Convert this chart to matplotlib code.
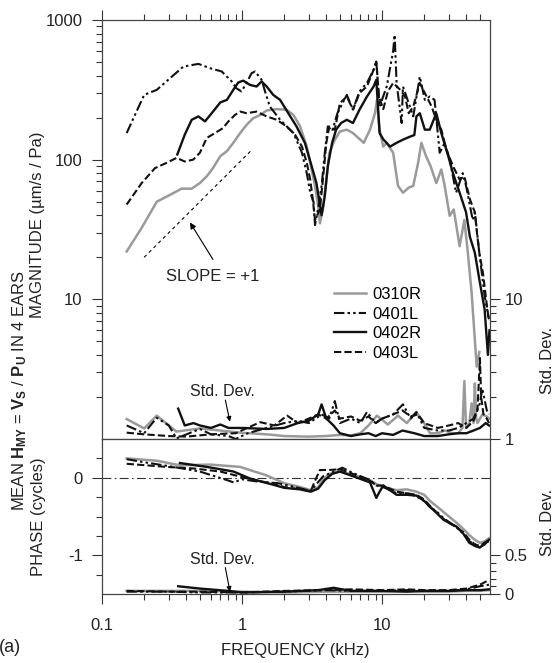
import matplotlib
matplotlib.use('Agg')
import matplotlib.pyplot as plt
import numpy as np
from matplotlib.ticker import FixedLocator, NullFormatter

plt.rcParams['font.family'] = 'Liberation Sans'
plt.rcParams['mathtext.fontset'] = 'custom'
plt.rcParams['mathtext.rm'] = 'Liberation Sans'
plt.rcParams['mathtext.bf'] = 'Liberation Sans:bold'
plt.rcParams['mathtext.it'] = 'Liberation Sans:italic'

ears = ['0310R', '0401L', '0402R', '0403L']

# magnitude (um/s / Pa)
f_mag_0310R = [0.15, 0.192, 0.246, 0.306, 0.37, 0.437, 0.5, 0.56, 0.62, 0.70, 0.78, 0.866, 0.97, 1.08, 1.2,
               1.35, 1.5, 1.77, 2.08, 2.33, 2.6, 2.9, 3.14, 3.32, 3.5, 3.6, 3.8, 4.0, 4.2, 4.6, 5.0, 5.6, 6.2,
               7.4, 8.2, 8.9, 9.2, 9.6, 10.2, 10.8, 12.0, 13.0, 14.1, 15.5, 16.7, 18.1, 19.1, 20.6, 22.2,
               24.4, 26.5, 28.0, 30.4, 32.5, 35.8, 38.7, 41.0, 43.6, 47.4, 49.5]
mag_0310R = [22, 32.5, 50, 56, 62, 62, 68, 76, 87, 106, 115, 132, 155, 178, 198,
             209, 225, 230, 228, 209, 173, 124, 85, 65, 46.5, 35, 46, 72, 112, 139, 159, 164, 155,
             132, 164, 215, 268, 164, 124, 132, 112, 65, 58, 63, 65, 95, 132, 106, 90,
             68, 85, 65, 39.6, 44, 24, 37, 21.5, 11.2, 3.3, 4.2]

f_mag_0401L = [0.15, 0.2, 0.246, 0.306, 0.381, 0.488, 0.59, 0.716, 0.844, 0.91, 0.99, 1.07, 1.17, 1.24, 1.38,
               1.46, 1.58, 1.87, 2.33, 2.68, 2.9, 3.07, 3.24, 3.32, 3.5, 3.7, 3.9, 4.1, 4.4, 4.8, 5.6, 6.2,
               6.9, 7.8, 8.7, 9.1, 9.6, 10.8, 12.0, 12.3, 12.7, 13.8, 14.1, 15.5, 16.7, 18.6, 20.2, 21.9,
               23.7, 25.8, 28.0, 30.4, 33.8, 37.7, 39.8, 44.4, 46.0, 49.5, 54.0, 58.0]
mag_0401L = [155, 291, 316, 383, 464, 485, 452, 428, 363, 325, 308, 350, 416, 428, 373,
             308, 240, 193, 155, 112, 80, 58, 50, 34, 45, 65, 112, 173, 160, 215, 291, 228,
             308, 354, 440, 504, 240, 334, 600, 782, 354, 183, 334, 254, 204, 393, 268, 283,
             268, 112, 132, 100, 58, 80, 65, 37, 42, 21.5, 10.6, 7.2]

f_mag_0402R = [0.345, 0.39, 0.437, 0.488, 0.544, 0.607, 0.70, 0.78, 0.866, 0.94, 1.02, 1.14, 1.27, 1.38, 1.5,
               1.67, 1.87, 2.14, 2.45, 2.81, 3.14, 3.4, 3.55, 3.7, 3.9, 4.1, 4.4, 4.7, 5.1, 5.6, 6.2, 6.9,
               7.8, 8.7, 9.1, 9.6, 10.2, 11.4, 12.7, 14.1, 15.8, 17.0, 17.6, 18.6, 20.2, 21.9, 24.4, 26.5,
               29.7, 32.1, 35.8, 39.8, 42.4, 46.0, 49.5, 54.0, 57.0, 58.5]
mag_0402R = [109, 151, 193, 204, 188, 215, 257, 268, 316, 357, 368, 343, 334, 363, 334,
             291, 268, 215, 173, 132, 90, 68, 52, 40, 55, 90, 132, 164, 183, 193, 183, 228,
             283, 334, 373, 155, 140, 124, 132, 139, 146, 150, 204, 215, 164, 164, 215, 155,
             106, 80, 58, 42, 28, 21.5, 13.9, 8.5, 4.0, 6.0]

f_mag_0403L = [0.15, 0.192, 0.239, 0.29, 0.341, 0.39, 0.448, 0.5, 0.56, 0.64, 0.73, 0.80, 0.89, 0.97, 1.08,
               1.27, 1.5, 1.77, 2.08, 2.39, 2.68, 2.9, 3.07, 3.2, 3.32, 3.6, 3.8, 4.0, 4.2, 4.6, 5.0, 5.6,
               6.2, 6.9, 7.8, 8.7, 9.1, 9.5, 10.2, 11.0, 12.0, 13.5, 14.6, 15.5, 16.7, 18.6, 20.8, 22.6,
               24.4, 26.5, 28.8, 32.1, 35.8, 38.7, 42.4, 46.0, 47.6, 49.5, 52.5, 55.7, 58.0]
mag_0403L = [47.7, 68, 87, 95, 103, 97, 100, 112, 143, 155, 168, 188, 209, 221, 215,
             221, 204, 193, 173, 151, 124, 95, 72, 52, 37, 44, 76, 132, 173, 164, 254, 283,
             228, 300, 334, 440, 504, 283, 230, 308, 354, 316, 283, 215, 240, 354, 283, 240,
             193, 164, 118, 90, 72, 76, 52, 42, 30, 21.5, 15.5, 9.5, 7.0]

# std. dev. of magnitude (factor, right axis)
f_sd_0310R = [0.15, 0.2, 0.246, 0.34, 0.5, 0.7, 0.97, 1.5, 2, 3, 4, 5, 6, 7, 8, 9.2, 11, 13, 15, 17.6,
              20, 22, 25, 28, 32, 35, 37.5, 38.7, 39.8, 42, 43.6, 45, 46, 47, 48, 52, 56, 58]
sd_0310R = [1.39, 1.19, 1.47, 1.13, 1.19, 1.15, 1.11, 1.08, 1.05, 1.04, 1.05, 1.07, 1.06, 1.1, 1.25, 1.47,
            1.27, 1.47, 1.3, 1.56, 1.3, 1.1, 1.1, 1.15, 1.1, 1.1, 1.2, 2.6, 1.2, 1.3, 1.8, 1.3, 2.5, 1.4,
            1.3, 1.5, 1.45, 1.4]
f_sd_0401L = [0.15, 0.2, 0.246, 0.3, 0.34, 0.5, 0.6, 0.8, 0.9, 1.1, 1.5, 2, 2.5, 3, 3.7, 4.2, 4.6, 5,
              6, 7, 7.8, 9, 10, 12, 14.1, 16, 17.6, 20, 25, 30, 35, 40, 45, 50, 52, 56, 58]
sd_0401L = [1.25, 1.1, 1.42, 1.25, 1.01, 1.18, 1.08, 1.05, 1.0, 1.1, 1.2, 1.3, 1.35, 1.3, 1.5, 1.4, 1.87,
            1.3, 1.4, 1.3, 1.56, 1.3, 1.4, 1.5, 1.77, 1.4, 1.56, 1.2, 1.15, 1.15, 1.2, 1.3, 1.4, 1.8,
            2.3, 1.6, 1.5]
f_sd_0402R = [0.35, 0.39, 0.45, 0.5, 0.6, 0.7, 0.8, 1.0, 1.5, 2, 2.5, 3, 3.5, 3.7, 4, 4.5, 5, 6, 7, 8,
              9, 10, 12, 14, 17, 20, 25, 30, 35, 40, 45, 50, 55, 58]
sd_0402R = [1.65, 1.25, 1.3, 1.25, 1.2, 1.27, 1.2, 1.2, 1.18, 1.2, 1.3, 1.35, 1.5, 1.77, 1.4, 1.25, 1.1,
            1.05, 1.08, 1.1, 1.05, 1.1, 1.07, 1.15, 1.1, 1.05, 1.05, 1.08, 1.1, 1.1, 1.15, 1.2, 1.3, 1.25]
f_sd_0403L = [0.15, 0.2, 0.3, 0.4, 0.6, 0.9, 1.05, 1.35, 1.7, 2.1, 2.5, 3, 3.5, 4, 4.6, 5, 6, 7, 8, 9,
              10, 12, 14, 16, 18, 20, 25, 30, 35, 40, 45, 48, 50, 51, 53, 56, 58]
sd_0403L = [1.11, 1.08, 1.05, 1.04, 1.08, 1.1, 1.18, 1.32, 1.25, 1.47, 1.3, 1.4, 1.5, 1.4, 1.6, 1.4,
            1.45, 1.35, 1.45, 1.3, 1.4, 1.5, 1.6, 1.45, 1.5, 1.3, 1.2, 1.25, 1.3, 1.2, 1.35, 1.6, 3.8,
            2.0, 1.5, 1.4, 1.3]

# phase (cycles)
f_ph_0310R = [0.15, 0.246, 0.36, 0.59, 0.97, 1.5, 2.0, 2.6, 3.1, 3.5, 3.8, 4.2, 5.0, 6.2, 8.2, 9.1,
              10.2, 12.7, 15.0, 17.6, 20.0, 22.0, 25.0, 27.4, 30.0, 34.0, 38.0, 42.0, 46.0, 50.0, 54.0, 58.0]
ph_0310R = [0.25, 0.22, 0.16, 0.17, 0.14, 0.03, -0.07, -0.12, -0.16, -0.12, -0.02, 0.05, 0.08, 0.04,
            -0.03, -0.08, -0.12, -0.16, -0.15, -0.18, -0.22, -0.3, -0.38, -0.44, -0.5, -0.58, -0.66, -0.74,
            -0.8, -0.84, -0.82, -0.78]
f_ph_0401L = [0.15, 0.2, 0.3, 0.5, 0.78, 0.87, 1.0, 1.3, 1.8, 2.4, 3.1, 3.4, 3.8, 4.4, 5.2, 6.2, 8.2,
              9.1, 10.2, 12.7, 15.0, 17.6, 20.0, 22.0, 25.0, 27.4, 30.0, 34.0, 38.0, 42.0, 46.0, 50.0,
              54.0, 58.0]
ph_0401L = [0.24, 0.2, 0.15, 0.08, -0.03, -0.06, -0.02, -0.05, -0.07, -0.12, -0.17, -0.08, 0.02, 0.07,
            0.13, 0.06, -0.03, -0.1, -0.12, -0.2, -0.2, -0.24, -0.3, -0.38, -0.45, -0.52, -0.57, -0.64,
            -0.72, -0.82, -0.86, -0.9, -0.84, -0.82]
f_ph_0402R = [0.36, 0.56, 0.87, 1.14, 1.67, 2.0, 2.6, 3.1, 3.5, 3.9, 4.4, 5.0, 6.2, 8.2, 9.1, 9.6,
              10.2, 12.7, 15.0, 17.6, 20.0, 21.9, 25.0, 27.4, 30.0, 34.0, 38.0, 42.0, 46.0, 49.5, 54.0, 58.0]
ph_0402R = [0.19, 0.14, 0.08, -0.01, -0.09, -0.13, -0.15, -0.18, -0.14, -0.03, 0.05, 0.08, 0.02, -0.06,
            -0.26, -0.18, -0.1, -0.22, -0.22, -0.23, -0.3, -0.37, -0.47, -0.54, -0.58, -0.63, -0.72, -0.84,
            -0.88, -0.9, -0.86, -0.8]
f_ph_0403L = [0.15, 0.29, 0.45, 0.7, 1.1, 1.67, 2.0, 2.6, 3.1, 3.3, 3.6, 4.2, 5.0, 6.2, 8.2, 9.1, 10.2,
              12.7, 15.0, 17.6, 20.0, 21.9, 25.0, 27.4, 30.0, 34.0, 38.0, 42.0, 46.0, 50.0, 54.0, 58.0]
ph_0403L = [0.18, 0.14, 0.12, 0.08, -0.01, -0.08, -0.12, -0.15, -0.17, -0.05, 0.1, 0.1, 0.11, 0.05,
            -0.04, -0.1, -0.1, -0.18, -0.2, -0.22, -0.28, -0.36, -0.46, -0.53, -0.58, -0.64, -0.7, -0.8,
            -0.86, -0.88, -0.84, -0.8]

# std. dev. of phase (cycles, right axis)
f_psd = [0.15, 0.3, 0.5, 1, 2, 4, 6, 10, 15, 20, 30, 40, 50, 58]
psd_0310R = [0.04, 0.04, 0.04, 0.03, 0.02, 0.03, 0.03, 0.03, 0.04, 0.03, 0.03, 0.04, 0.04, 0.05]
psd_0401L = [0.03, 0.03, 0.02, 0.02, 0.03, 0.05, 0.04, 0.04, 0.05, 0.04, 0.04, 0.06, 0.1, 0.12]
f_psd_0402R = [0.35, 0.5, 0.8, 1, 2, 3.5, 4.5, 6, 10, 15, 20, 30, 40, 50, 58]
psd_0402R = [0.1, 0.07, 0.04, 0.02, 0.03, 0.05, 0.08, 0.04, 0.04, 0.03, 0.04, 0.04, 0.05, 0.05, 0.06]
psd_0403L = [0.04, 0.03, 0.03, 0.02, 0.04, 0.05, 0.06, 0.05, 0.06, 0.05, 0.05, 0.07, 0.12, 0.18]

slope_f = [0.2, 1.15]
slope_mag = [20, 115]

mag = {'0310R': (f_mag_0310R, mag_0310R), '0401L': (f_mag_0401L, mag_0401L),
       '0402R': (f_mag_0402R, mag_0402R), '0403L': (f_mag_0403L, mag_0403L)}
sd = {'0310R': (f_sd_0310R, sd_0310R), '0401L': (f_sd_0401L, sd_0401L),
      '0402R': (f_sd_0402R, sd_0402R), '0403L': (f_sd_0403L, sd_0403L)}
ph = {'0310R': (f_ph_0310R, ph_0310R), '0401L': (f_ph_0401L, ph_0401L),
      '0402R': (f_ph_0402R, ph_0402R), '0403L': (f_ph_0403L, ph_0403L)}
psd = {'0310R': (f_psd, psd_0310R), '0401L': (f_psd, psd_0401L),
       '0402R': (f_psd_0402R, psd_0402R), '0403L': (f_psd, psd_0403L)}

styles = {'0310R': dict(color='#9a9a9a', ls='-', lw=1.8),
          '0401L': dict(color='#111111', ls=(0, (5, 1.5, 1.2, 1.5, 1.2, 1.5)), lw=1.5),
          '0402R': dict(color='#111111', ls='-', lw=1.7),
          '0403L': dict(color='#111111', ls=(0, (3.5, 1.5)), lw=1.5)}

W, H = 557, 663
fig = plt.figure(figsize=(W/100, H/100), dpi=100)
ax = fig.add_axes([102/W, 1-439/H, 388/W, 419/H])
axp = fig.add_axes([102/W, 1-594/H, 388/W, 155/H])

# magnitude panel
for e in ears:
    ax.plot(*mag[e], label=e, **styles[e])
    ax.plot(*sd[e], **styles[e])
ax.plot(slope_f, slope_mag, color='k', lw=0.8, ls=(0, (3, 3)))

ax.set_xscale('log')
ax.set_yscale('log')
ax.set_xlim(0.1, 59)
ax.set_ylim(1, 1000)
ax.set_yticks([10, 100, 1000])
ax.set_yticklabels(['10', '100', '1000'])
ax.tick_params(which='both', direction='out', top=True, bottom=True, right=False,
               labelbottom=False, labelsize=12, colors='#333333', labelcolor='#222222')
ax.tick_params(axis='y', pad=7)
ax.tick_params(which='major', length=7, width=0.8)
ax.tick_params(which='minor', length=4, width=0.8)

axr = ax.twinx()
axr.set_yscale('log')
axr.set_ylim(1, 1000)
axr.set_yticks([1, 10])
axr.set_yticklabels(['1', '10'])
axr.yaxis.set_minor_locator(FixedLocator([2, 3, 4, 5, 6, 7, 8, 9]))
axr.yaxis.set_minor_formatter(NullFormatter())
axr.tick_params(which='both', direction='out', labelsize=12, colors='#333333', labelcolor='#222222')
axr.tick_params(which='major', length=7, width=0.8)
axr.tick_params(which='minor', length=4, width=0.8)

ax.legend(loc='upper left', bbox_to_anchor=(0.598, 0.362), frameon=False, fontsize=12,
          handlelength=1.9, handletextpad=0.4, labelspacing=0.27, borderpad=0, borderaxespad=0)

ax.annotate('', xy=(0.425, 35.5), xytext=(0.62, 19.3),
            arrowprops=dict(arrowstyle='-|>', color='k', lw=0.8, mutation_scale=9, shrinkA=0, shrinkB=0))
ax.text(0.62, 14.6, 'SLOPE = +1', ha='center', va='center', fontsize=12, color='#222222')
ax.text(0.73, 2.2, 'Std. Dev.', ha='center', va='center', fontsize=11.5, color='#222222')
ax.annotate('', xy=(0.82, 1.33), xytext=(0.76, 1.9),
            arrowprops=dict(arrowstyle='-|>', color='k', lw=0.8, mutation_scale=7, shrinkA=0, shrinkB=0))

# phase panel
axp.axhline(0, color='#333333', lw=0.8, ls=(0, (8, 3, 1.5, 3)))
for e in ears:
    axp.plot(*ph[e], **styles[e])
    fs, vals = psd[e]
    axp.plot(fs, np.array(vals) - 1.5, **styles[e])

axp.set_xscale('log')
axp.set_xlim(0.1, 59)
axp.set_ylim(-1.5, 0.5)
axp.set_xticks([0.1, 1, 10])
axp.set_xticklabels(['0.1', '1', '10'])
axp.set_yticks([-1, 0])
axp.set_yticklabels(['-1', '0'])
axp.yaxis.set_minor_locator(FixedLocator([-1.25, -0.75, -0.5, -0.25, 0.25]))
axp.tick_params(which='both', direction='out', top=False, right=False, labelsize=12,
                colors='#333333', labelcolor='#222222')
axp.tick_params(axis='x', pad=10)
axp.tick_params(axis='y', pad=7)
axp.tick_params(which='major', length=7, width=0.8)
axp.tick_params(which='minor', length=4, width=0.8)

axpr = axp.twinx()
axpr.set_ylim(0, 2)
axpr.set_yticks([0, 0.5])
axpr.set_yticklabels(['0', '0.5'])
axpr.yaxis.set_minor_locator(FixedLocator([0.1, 0.2, 0.3, 0.4]))
axpr.tick_params(which='both', direction='out', labelsize=12, colors='#333333', labelcolor='#222222')
axpr.tick_params(which='major', length=7, width=0.8)
axpr.tick_params(which='minor', length=4, width=0.8)

axp.text(0.73, -1.055, 'Std. Dev.', ha='center', va='center', fontsize=11.5, color='#222222')
axp.annotate('', xy=(0.82, -1.47), xytext=(0.76, -1.16),
             arrowprops=dict(arrowstyle='-|>', color='k', lw=0.8, mutation_scale=7, shrinkA=0, shrinkB=0))

for a in (ax, axr, axp, axpr):
    for s in a.spines.values():
        s.set_color('#444444')
        s.set_linewidth(0.8)

# axis labels
fig.text(20/W, 1-390/H, r'MEAN $\mathbf{H_{MY}}$ = $\mathbf{V_S}$ / $\mathbf{P_U}$ IN 4 EARS',
         rotation=90, ha='center', va='center', fontsize=12, color='#222222')
fig.text(38/W, 1-225/H, 'MAGNITUDE (\u00b5m/s / Pa)', rotation=90, ha='center', va='center',
         fontsize=12, color='#222222')
fig.text(38/W, 1-517/H, 'PHASE (cycles)', rotation=90, ha='center', va='center',
         fontsize=12, color='#222222')
fig.text(547/W, 1-360/H, 'Std. Dev.', rotation=90, ha='center', va='center', fontsize=12, color='#222222')
fig.text(547/W, 1-522/H, 'Std. Dev.', rotation=90, ha='center', va='center', fontsize=12, color='#222222')
fig.text(295/W, 1-650/H, 'FREQUENCY (kHz)', ha='center', va='center', fontsize=12, color='#222222')
fig.text(10/W, 1-648/H, '(a)', ha='center', va='center', fontsize=13, color='#222222')

fig.savefig('out.png', dpi=100)
